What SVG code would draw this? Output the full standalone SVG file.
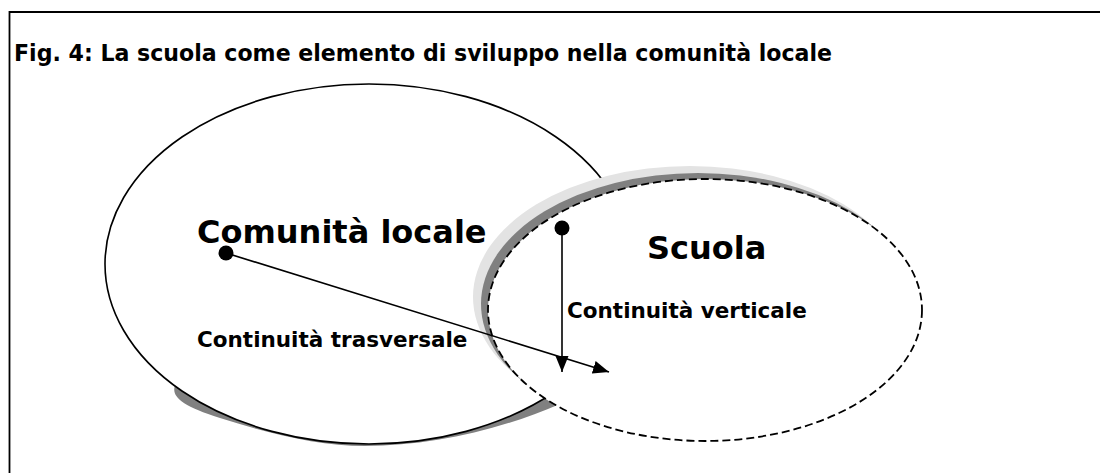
<svg xmlns="http://www.w3.org/2000/svg" width="1100" height="473" viewBox="0 0 1100 473">
<style>
.t{font-family:"DejaVu Sans",Verdana,sans-serif;font-weight:bold;fill:#000}
.big{font-size:32px}
.mid{font-size:21.5px}
.title{font-size:23px}
.conn{stroke:#000;stroke-width:1.6;fill:none}
</style>
<defs>
<marker id="arr" markerUnits="userSpaceOnUse" markerWidth="17" markerHeight="14" refX="16" refY="6.5" orient="auto">
<path d="M0,0 L16,6.5 L0,13 z" fill="#000"/>
</marker>
</defs>
<rect width="1100" height="473" fill="#fff"/>
<g id="frame">
<path d="M9.5,473 V12 H1100" fill="none" stroke="#000" stroke-width="1.8"/>
</g>
<text class="t title" x="14" y="61" textLength="818" lengthAdjust="spacingAndGlyphs">Fig. 4: La scuola come elemento di sviluppo nella comunità locale</text>
<g id="comunita">
<path d="M176,383 C170,395 178,405 220,418 C270,434 320,446 365,446 C430,446 500,430 560,404 L540,330 L220,330 Z" fill="#808080"/>
<ellipse cx="369" cy="264" rx="264" ry="180" fill="#fff" stroke="#000" stroke-width="1.6"/>
</g>
<g id="scuola">
<ellipse cx="690" cy="297" rx="217" ry="131" fill="#e3e3e3"/>
<ellipse cx="698" cy="304" rx="217" ry="131" fill="#808080"/>
<ellipse cx="705" cy="310" rx="217" ry="131" fill="#fff" stroke="#000" stroke-width="1.8" stroke-dasharray="8 4"/>
</g>
<g id="labels">
<text class="t big" x="197" y="243">Comunità locale</text>
<text class="t big" x="647" y="259">Scuola</text>
<text class="t mid" x="197" y="347">Continuità trasversale</text>
<text class="t mid" x="567" y="318">Continuità verticale</text>
</g>
<g id="connectors">
<circle cx="226" cy="253" r="7.5" fill="#000"/>
<line class="conn" x1="226" y1="253" x2="609" y2="372" marker-end="url(#arr)"/>
<circle cx="562" cy="228" r="7.5" fill="#000"/>
<line class="conn" x1="562" y1="228" x2="562" y2="372" marker-end="url(#arr)"/>
</g>
</svg>
